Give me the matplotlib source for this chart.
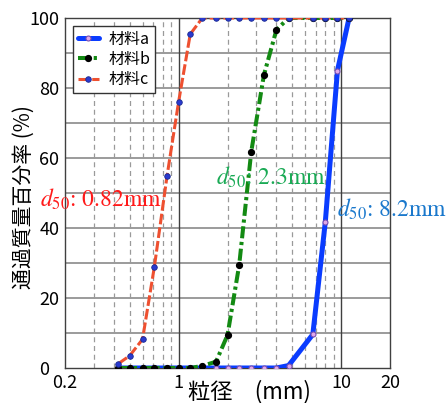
import matplotlib
matplotlib.use("Agg")
import matplotlib.pyplot as plt
import matplotlib.transforms as mtransforms
from matplotlib.ticker import FixedLocator, NullFormatter, FixedFormatter

plt.rcParams['font.family'] = ['Noto Sans CJK JP', 'DejaVu Sans']
plt.rcParams['mathtext.fontset'] = 'stix'

# Sieve sizes (mm)
sizes = [0.425, 0.5, 0.6, 0.71, 0.85, 1.0, 1.18, 1.4, 1.7, 2.0, 2.36, 2.8,
         3.35, 4.0, 4.75, 6.7, 8.0, 9.5, 11.2]
# Percent passing
mat_a = [0, 0, 0, 0, 0, 0, 0, 0, 0, 0, 0, 0, 0, 0, 0.7, 9.6, 41.8, 85, 100]
mat_b = [0, 0, 0, 0, 0, 0, 0, 0.6, 1.8, 9.4, 29.4, 61.8, 83.7, 96.6, 100, 100, 100, 100, 100]
mat_c = [1.2, 3.5, 8.2, 29, 55, 76, 95.4, 100, 100, 100, 100, 100, 100, 100, 100, 100, 100, 100, 100]
labels = ['材料a', '材料b', '材料c']

x_ticks = [0.2, 1, 10, 20]
x_ticklabels = ['0.2', '1', '10', '20']
x_minor = [0.3, 0.4, 0.5, 0.6, 0.7, 0.8, 0.9, 2, 3, 4, 5, 6, 7, 8, 9]
y_ticks = [0, 20, 40, 60, 80, 100]

fig = plt.figure(figsize=(4.46, 4.03), dpi=100)
ax = fig.add_axes([65/446, 35/403, 325/446, 350/403])

ax.set_xscale('log')
ax.set_xlim(0.2, 20)
ax.set_ylim(0, 100)

# grid
for yv in range(10, 100, 10):
    ax.axhline(yv, color='#8a8a8a', lw=1.2, zorder=1)
for xv in x_minor:
    ax.axvline(xv, color='#9a9a9a', lw=0.9, ls=(0, (4, 3)), zorder=1)
for xv in [1, 10]:
    ax.axvline(xv, color='#404040', lw=1.0, zorder=1)

ax.plot(sizes, mat_a, color='#0a3cff', lw=3.6, solid_capstyle='round',
        marker='o', ms=3.6, mfc='#e0a8e8', mec='#7a50b0', mew=0.8,
        label=labels[0], zorder=3)
ax.plot(sizes, mat_b, color='#138a13', lw=2.9, dashes=[3, 0.9, 0.8, 0.9],
        marker='o', ms=4.2, mfc='black', mec='black',
        label=labels[1], zorder=4)
ax.plot(sizes, mat_c, color='#ee5030', lw=2.2, dashes=[3.5, 1],
        marker='o', ms=4.0, mfc='#2a3ad0', mec='#1a2a90', mew=0.6,
        label=labels[2], zorder=5)

ax.xaxis.set_major_locator(FixedLocator(x_ticks))
ax.xaxis.set_major_formatter(FixedFormatter(x_ticklabels))
ax.xaxis.set_minor_locator(FixedLocator(x_minor))
ax.xaxis.set_minor_formatter(NullFormatter())
ax.set_yticks(y_ticks)
ax.tick_params(axis='both', which='both', length=0, labelsize=13, colors='black')
ax.tick_params(axis='x', pad=4)
ax.tick_params(axis='y', pad=4)

# shift the "0" y label left a little, as in the reference
zero_lbl = ax.get_yticklabels()[0]
zero_lbl.set_transform(zero_lbl.get_transform() +
                       mtransforms.ScaledTranslation(-10/100, 0, fig.dpi_scale_trans))

for sp in ax.spines.values():
    sp.set_color('#404040')
    sp.set_linewidth(1.0)

leg = ax.legend(loc='upper left', fontsize=11.5, frameon=True, fancybox=False,
                edgecolor='#333333', framealpha=1, handlelength=1.3,
                borderaxespad=0.5, labelspacing=0.2, borderpad=0.3,
                handletextpad=0.6)
leg.get_frame().set_linewidth(1.0)

# d50 annotations
ax.text(0.140, 46.1, r'$d_{50}$: 0.82mm', color='#ff1a1a', fontsize=17,
        family='STIXGeneral', ha='left', va='baseline', clip_on=False, zorder=6)
ax.text(1.70, 52.3, r'$d_{50}$: 2.3mm', color='#1aaa55', fontsize=17,
        family='STIXGeneral', ha='left', va='baseline', clip_on=False, zorder=6)
ax.text(9.4, 43.2, r'$d_{50}$: 8.2mm', color='#1a78cc', fontsize=17,
        family='STIXGeneral', ha='left', va='baseline', clip_on=False, zorder=6)

fig.text(249/446, 1 - 392/403, '粒径\u3000(mm)', fontsize=16, ha='center', va='center')
fig.text(24/446, 1 - 197/403, '通過質量百分率 (%)', fontsize=15, rotation=90,
         ha='center', va='center')

fig.savefig('out.png', dpi=100)
